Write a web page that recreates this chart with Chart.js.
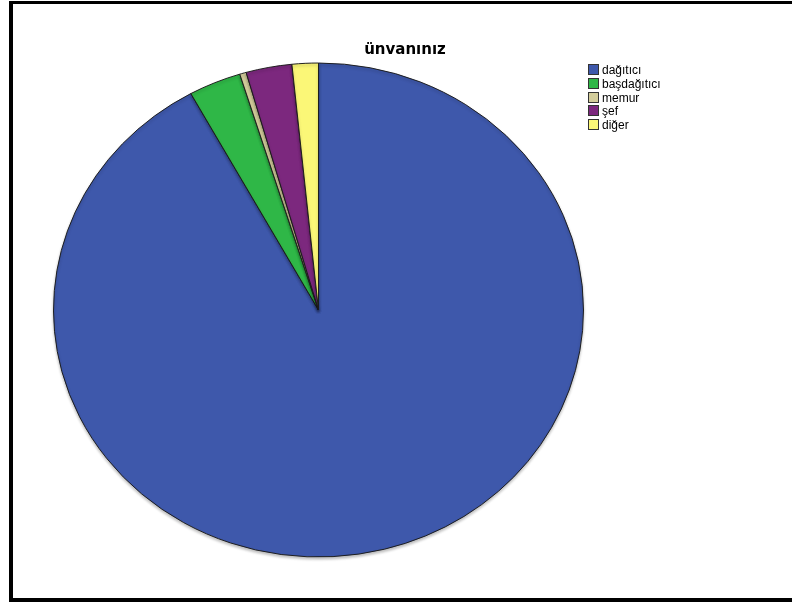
<!DOCTYPE html>
<html>
<head>
<meta charset="utf-8">
<script src="https://cdn.jsdelivr.net/npm/chart.js@4"></script>
<style>
  html, body { margin: 0; padding: 0; background: #fff; }
  #wrap { position: relative; width: 792px; height: 606px; overflow: hidden; }
  #frame {
    position: absolute; left: 9px; top: 1px; width: 800px; height: 594px;
    border-left: 4px solid #000; border-top: 3px solid #000; border-bottom: 4px solid #000;
  }
  canvas { position: absolute; left: 0; top: 0; }
  #title {
    position: absolute; left: 305px; width: 200px; top: 40px; text-align: center;
    font: bold 15px "DejaVu Sans", sans-serif; color: #000;
  }
  #legend { position: absolute; left: 588px; top: 64px; font: 12px "Liberation Sans", Arial, sans-serif; color: #000; }
  #legend div { height: 13.8px; line-height: 13.8px; white-space: nowrap; }
  #legend span.box {
    display: inline-block; width: 9px; height: 9px; border: 1px solid #333;
    vertical-align: -1px; margin-right: 3px;
  }
</style>
</head>
<body>
<div id="wrap">
  <canvas id="pie" width="792" height="606"></canvas>
  <div id="frame"></div>
  <div id="title">ünvanınız</div>
  <div id="legend"></div>
</div>
<script>
// categories and counts
const labels = ["dağıtıcı", "başdağıtıcı", "memur", "şef", "diğer"];
const counts = [230, 8, 1, 7, 4];
const colors = ["#3e58ab", "#2fb747", "#d3cd9b", "#7c287e", "#fbf777"];

// legend like SPSS output
const legend = document.getElementById("legend");
labels.forEach((name, i) => {
  const row = document.createElement("div");
  const box = document.createElement("span");
  box.className = "box";
  box.style.background = colors[i];
  row.appendChild(box);
  row.appendChild(document.createTextNode(name));
  legend.appendChild(row);
});

// squash the round pie into the flat ellipse of the original
const squash = {
  id: "squash",
  beforeDatasetsDraw(chart) {
    const arc = chart.getDatasetMeta(0).data[0];
    const ctx = chart.ctx;
    ctx.save();
    ctx.translate(arc.x, arc.y);
    ctx.scale(1, 0.932);
    ctx.translate(-arc.x, -arc.y);
    ctx.shadowColor = "rgba(0,0,0,0.25)";
    ctx.shadowBlur = 3;
    ctx.shadowOffsetY = 2;
  },
  afterDatasetsDraw(chart) {
    chart.ctx.restore();
  }
};

new Chart(document.getElementById("pie"), {
  type: "pie",
  data: {
    labels: labels,
    datasets: [{
      data: counts,
      backgroundColor: colors,
      borderColor: "#1b1b1b",
      borderWidth: 1
    }]
  },
  options: {
    responsive: false,
    animation: false,
    events: [],
    radius: 265,
    layout: { padding: { left: 0, right: 155, top: 14, bottom: 0 } },
    plugins: {
      legend: { display: false },
      title: { display: false },
      tooltip: { enabled: false }
    }
  },
  plugins: [squash]
});
</script>
</body>
</html>
